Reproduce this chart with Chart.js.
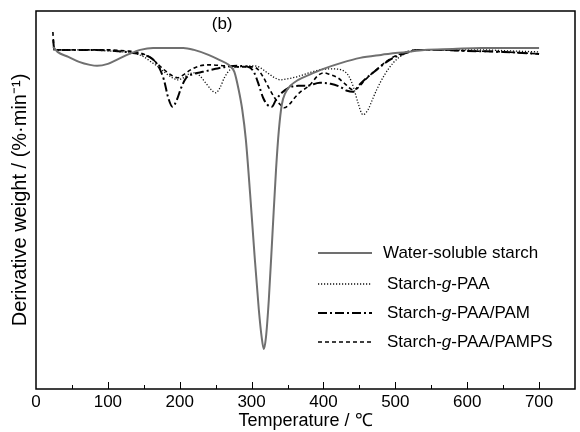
<!DOCTYPE html>
<html lang="en">
<head>
  <meta charset="UTF-8">
  <title>DTG curves (b)</title>
  <script src="https://cdn.jsdelivr.net/npm/chart.js"></script>
  <style>
    html, body { margin: 0; padding: 0; background: #fff; }
    #wrap { width: 580px; height: 432px; }
  </style>
</head>
<body>
  <div id="wrap">
    <canvas id="dtgChart" width="580" height="432"></canvas>
  </div>

  <script>
    // Temperature (°C) and derivative weight values
    const starchT = [24, 30, 45, 60, 75, 85, 100, 115, 130, 145, 163, 190, 205, 220, 240, 255, 268, 276, 282, 287, 292, 298, 304, 310, 314, 317, 320, 324, 329, 334, 338, 342, 347, 354, 365, 380, 400, 425, 451, 480, 516, 540, 580, 620, 660, 700];
    const starchY = [0.15, -0.10, -0.35, -0.60, -0.75, -0.80, -0.70, -0.45, -0.20, 0, 0.10, 0.10, 0.10, 0, -0.25, -0.50, -0.75, -1.10, -2.00, -3.00, -4.50, -7.25, -10.25, -13.00, -14.40, -15.00, -14.40, -12.50, -9.25, -6.00, -4.00, -2.75, -2.15, -1.80, -1.50, -1.25, -0.95, -0.65, -0.40, -0.25, -0.10, 0, 0.05, 0.10, 0.10, 0.10];

    const paaT = [24, 40, 70, 100, 120, 135, 150, 160, 170, 180, 190, 197, 205, 213, 220, 228, 236, 244, 250, 256, 262, 270, 284, 300, 310, 320, 330, 340, 350, 363, 380, 395, 410, 425, 435, 442, 448, 455, 462, 468, 474, 485, 497, 508, 520, 540, 580, 620, 660, 700];
    const paaY = [0, 0, 0, -0.05, -0.10, -0.15, -0.35, -0.60, -0.85, -1.15, -1.40, -1.50, -1.40, -1.20, -1.15, -1.30, -1.65, -2.00, -2.15, -1.90, -1.40, -1.00, -0.85, -0.80, -0.85, -1.10, -1.35, -1.50, -1.45, -1.35, -1.15, -1.00, -0.95, -1.00, -1.30, -1.90, -2.65, -3.25, -3.00, -2.50, -2.00, -1.25, -0.65, -0.30, -0.10, 0, 0, 0, -0.05, -0.10];

    const pamT = [24, 25, 27, 50, 80, 110, 135, 150, 160, 170, 178, 184, 190, 196, 202, 209, 220, 232, 250, 264, 280, 295, 303, 310, 316, 322, 328, 334, 342, 352, 365, 377, 395, 410, 423, 433, 441, 450, 460, 474, 488, 500, 516, 530, 560, 600, 650, 700];
    const pamY = [0.50, 0.10, 0, 0, 0, -0.05, -0.15, -0.25, -0.40, -0.80, -1.50, -2.40, -2.85, -2.50, -1.90, -1.40, -1.20, -1.10, -0.95, -0.85, -0.80, -0.85, -1.10, -1.75, -2.40, -2.75, -2.85, -2.50, -2.15, -1.90, -1.80, -1.80, -1.65, -1.70, -1.85, -2.05, -2.10, -1.75, -1.40, -1.00, -0.60, -0.35, -0.15, 0, 0, -0.05, -0.10, -0.20];

    const pampsT = [23.5, 24.5, 26, 40, 70, 100, 125, 145, 160, 172, 182, 190, 197, 205, 215, 228, 243, 262, 280, 300, 308, 316, 324, 332, 340, 345, 352, 360, 368, 380, 392, 400, 410, 420, 430, 441, 448, 458, 470, 485, 500, 516, 530, 560, 600, 650, 700];
    const pampsY = [0.90, 0.30, 0, 0, 0, 0, -0.05, -0.15, -0.40, -0.80, -1.10, -1.30, -1.40, -1.25, -1.00, -0.80, -0.75, -0.80, -0.85, -0.85, -0.95, -1.35, -1.90, -2.40, -2.75, -2.90, -2.75, -2.40, -2.10, -1.80, -1.30, -1.15, -1.25, -1.40, -1.70, -2.00, -1.90, -1.50, -1.10, -0.65, -0.30, -0.10, 0, 0, -0.05, -0.10, -0.20];

    const seriesNames = ['Water-soluble starch', 'Starch-g-PAA', 'Starch-g-PAA/PAM', 'Starch-g-PAA/PAMPS'];
    const xTicks = [0, 100, 200, 300, 400, 500, 600, 700];

    const FONT = '"Liberation Sans", Arial, sans-serif';

    function toPoints(t, y) {
      return t.map((v, i) => ({ x: v, y: y[i] }));
    }

    // frame + inward tick marks on the bottom axis
    const framePlugin = {
      id: 'frame',
      afterDatasetsDraw(chart) {
        const { ctx, chartArea: a, scales } = chart;
        ctx.save();
        ctx.strokeStyle = '#000';
        ctx.lineWidth = 1.5;
        ctx.setLineDash([]);
        ctx.strokeRect(a.left, a.top, a.right - a.left, a.bottom - a.top);
        ctx.lineWidth = 1;
        for (let v = 50; v < 750; v += 50) {
          const px = Math.round(scales.x.getPixelForValue(v)) + 0.5;
          const len = v % 100 === 0 ? 7 : 4;
          ctx.beginPath();
          ctx.moveTo(px, a.bottom);
          ctx.lineTo(px, a.bottom - len);
          ctx.stroke();
        }
        // panel label
        ctx.fillStyle = '#000';
        ctx.font = '17px ' + FONT;
        ctx.textAlign = 'center';
        ctx.textBaseline = 'middle';
        ctx.fillText('(b)', scales.x.getPixelForValue(259), a.top + 13);
        ctx.restore();
      }
    };

    // legend drawn inside the plot area, with italic "g"
    const legendPlugin = {
      id: 'innerLegend',
      afterDatasetsDraw(chart) {
        const { ctx } = chart;
        const rows = [253, 284, 313, 342];
        const textX = [383, 387, 387, 387];
        ctx.save();
        chart.data.datasets.forEach((ds, i) => {
          const y = rows[i];
          ctx.strokeStyle = ds.borderColor;
          ctx.lineWidth = ds.borderWidth;
          ctx.setLineDash(ds.borderDash || []);
          ctx.beginPath();
          ctx.moveTo(318, y);
          ctx.lineTo(372, y);
          ctx.stroke();
          ctx.setLineDash([]);
          ctx.fillStyle = '#000';
          ctx.textBaseline = 'middle';
          ctx.textAlign = 'left';
          const parts = ds.label.split('-g-');
          let x = textX[i];
          ctx.font = '17px ' + FONT;
          if (parts.length === 1) {
            ctx.fillText(ds.label, x, y);
          } else {
            ctx.fillText(parts[0] + '-', x, y);
            x += ctx.measureText(parts[0] + '-').width;
            ctx.font = 'italic 17px ' + FONT;
            ctx.fillText('g', x, y);
            x += ctx.measureText('g').width;
            ctx.font = '17px ' + FONT;
            ctx.fillText('-' + parts[1], x, y);
          }
        });
        ctx.restore();
      }
    };

    const ctxDtg = document.getElementById('dtgChart').getContext('2d');

    const dtgChart = new Chart(ctxDtg, {
      type: 'line',
      data: {
        datasets: [
          {
            label: seriesNames[0],
            data: toPoints(starchT, starchY),
            borderColor: '#707070',
            borderWidth: 2,
            borderDash: []
          },
          {
            label: seriesNames[1],
            data: toPoints(paaT, paaY),
            borderColor: '#111',
            borderWidth: 1.3,
            borderDash: [1.2, 1.8]
          },
          {
            label: seriesNames[2],
            data: toPoints(pamT, pamY),
            borderColor: '#000',
            borderWidth: 2,
            borderDash: [9, 3, 2, 3]
          },
          {
            label: seriesNames[3],
            data: toPoints(pampsT, pampsY),
            borderColor: '#000',
            borderWidth: 1.6,
            borderDash: [4, 3]
          }
        ]
      },
      options: {
        responsive: false,
        animation: false,
        elements: {
          point: { radius: 0 },
          line: { cubicInterpolationMode: 'monotone', fill: false }
        },
        layout: { padding: { top: 11, right: 5, left: 0, bottom: 0 } },
        plugins: {
          legend: { display: false },
          tooltip: { enabled: false }
        },
        scales: {
          x: {
            type: 'linear',
            min: 0,
            max: 750,
            grid: { display: false, drawTicks: false },
            border: { display: false },
            afterFit(s) { s.height = 43; },
            afterBuildTicks(s) { s.ticks = xTicks.map(v => ({ value: v })); },
            ticks: {
              color: '#000',
              padding: 3,
              maxRotation: 0,
              autoSkip: false,
              font: { family: FONT, size: 17 }
            },
            title: {
              display: true,
              text: 'Temperature / ℃',
              color: '#000',
              padding: 0,
              font: { family: FONT, size: 18 }
            }
          },
          y: {
            min: -17,
            max: 1.95,
            grid: { display: false, drawTicks: false },
            border: { display: false },
            ticks: { display: false },
            afterFit(s) { s.width = 36; },
            title: {
              display: true,
              text: 'Derivative weight / (%·min⁻¹)',
              color: '#000',
              padding: { top: 8, bottom: 0 },
              font: { family: FONT, size: 20 }
            }
          }
        }
      },
      plugins: [framePlugin, legendPlugin]
    });
  </script>
</body>
</html>
